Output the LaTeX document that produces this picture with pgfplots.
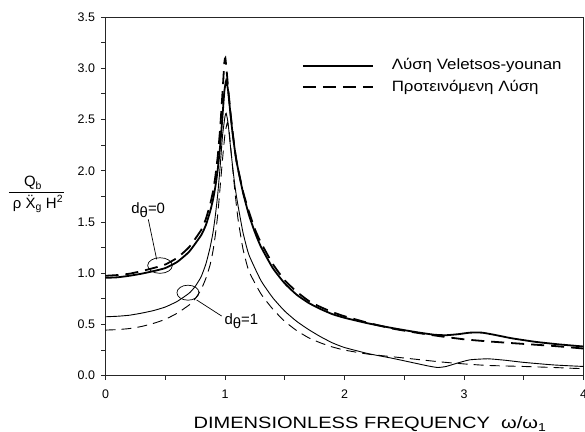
\documentclass[border=0pt]{standalone}
\usepackage{fontspec}
\setmainfont{Liberation Sans}
\usepackage{pgfplots}
\usepackage{pgfplotstable}
\usepackage{graphicx}
\pgfplotsset{compat=1.18}

\pgfplotstableread{
x y
0.00 0.955
0.10 0.960
0.20 0.975
0.30 0.995
0.40 1.020
0.50 1.050
0.60 1.110
0.70 1.210
0.80 1.370
0.84 1.470
0.875 1.600
0.90 1.720
0.92 1.850
0.94 2.020
0.96 2.250
0.98 2.550
0.995 2.780
1.01 2.880
1.025 2.790
1.04 2.620
1.06 2.400
1.08 2.220
1.10 2.070
1.15 1.790
1.20 1.570
1.25 1.400
1.30 1.260
1.40 1.050
1.50 0.900
1.60 0.790
1.70 0.710
1.80 0.650
1.90 0.600
2.00 0.565
2.20 0.510
2.40 0.465
2.60 0.425
2.75 0.400
2.85 0.395
2.95 0.405
3.05 0.420
3.15 0.420
3.25 0.400
3.40 0.365
3.60 0.330
3.80 0.305
4.00 0.285
}\vsA

\pgfplotstableread{
x y
0.00 0.975
0.10 0.982
0.20 0.995
0.30 1.020
0.40 1.050
0.50 1.085
0.60 1.150
0.70 1.255
0.80 1.420
0.84 1.530
0.875 1.670
0.90 1.800
0.92 1.950
0.94 2.150
0.96 2.420
0.98 2.780
0.995 3.060
1.003 3.100
1.015 2.960
1.03 2.760
1.05 2.520
1.08 2.220
1.10 2.070
1.15 1.800
1.20 1.600
1.25 1.430
1.30 1.300
1.40 1.090
1.50 0.930
1.60 0.820
1.70 0.730
1.80 0.670
1.90 0.620
2.00 0.580
2.20 0.515
2.40 0.460
2.60 0.420
2.80 0.385
3.00 0.355
3.20 0.335
3.50 0.310
3.75 0.290
4.00 0.265
}\prA

\pgfplotstableread{
x y
0.00 0.575
0.10 0.580
0.20 0.590
0.30 0.610
0.40 0.635
0.50 0.670
0.60 0.725
0.70 0.805
0.75 0.870
0.80 0.965
0.84 1.090
0.875 1.250
0.90 1.400
0.92 1.570
0.94 1.780
0.96 2.050
0.98 2.350
1.00 2.530
1.01 2.560
1.025 2.470
1.04 2.300
1.06 2.080
1.08 1.880
1.10 1.720
1.15 1.400
1.20 1.180
1.30 0.930
1.40 0.760
1.50 0.630
1.60 0.530
1.70 0.450
1.80 0.380
1.90 0.320
2.00 0.275
2.20 0.215
2.40 0.170
2.60 0.120
2.70 0.095
2.78 0.080
2.85 0.090
2.95 0.125
3.05 0.155
3.20 0.165
3.35 0.150
3.50 0.130
3.75 0.105
4.00 0.090
}\vsB

\pgfplotstableread{
x y
0.00 0.445
0.10 0.450
0.20 0.460
0.30 0.480
0.40 0.510
0.50 0.550
0.60 0.610
0.70 0.690
0.75 0.750
0.80 0.840
0.84 0.950
0.875 1.080
0.90 1.220
0.92 1.380
0.94 1.580
0.96 1.850
0.98 2.120
1.00 2.360
1.02 2.470
1.035 2.380
1.05 2.200
1.07 1.950
1.09 1.720
1.11 1.520
1.15 1.240
1.20 1.020
1.30 0.800
1.40 0.650
1.50 0.530
1.60 0.440
1.70 0.370
1.80 0.320
1.90 0.280
2.00 0.250
2.20 0.210
2.40 0.185
2.60 0.160
2.80 0.135
3.00 0.115
3.20 0.100
3.50 0.090
3.75 0.080
4.00 0.068
}\prB

\begin{document}
\begin{tikzpicture}
\begin{axis}[
  at={(0,0)}, anchor=south west,
  scale only axis, width=478bp, height=358.7bp,
  xmin=0, xmax=4, ymin=0, ymax=3.5,
  xtick={0,1,2,3,4},
  ytick={0,0.5,1,1.5,2,2.5,3,3.5},
  minor x tick num=1, minor y tick num=1,
  tick align=outside, xtick pos=bottom, ytick pos=left,
  major tick length=4.5bp, minor tick length=4bp,
  axis line style={line width=0.9bp, black!85},
  every tick/.style={black!85, line width=0.8bp},
  /pgf/number format/assume math mode=true,
  ticklabel style={font=\fontsize{12.5}{14}\selectfont},
  y tick label style={xshift=-2.5bp, /pgf/number format/fixed, /pgf/number format/fixed zerofill, /pgf/number format/precision=1},
  x tick label style={yshift=-6bp},
  legend style={at={(axis cs:1.644,2.918)}, anchor=west, draw=none, fill=none,
    inner sep=0pt, outer sep=0pt, row sep=8bp,
    font=\fontsize{15}{17}\selectfont,
    nodes={inner sep=0pt, text height=10.5bp, text depth=3bp},
    /tikz/every odd column/.append style={column sep=18bp}},
  legend cell align=left,
  legend image code/.code={\draw[#1] (0bp,0bp) -- (70bp,0bp);},
  clip=true,
]
\addplot[black, line width=1.8bp, smooth, tension=0.3] table {\vsA};
\addlegendentry{\scalebox{1.13}[1]{Λύση Veletsos-younan}}
\addplot[black, line width=1.8bp, dash pattern=on 13bp off 7bp, smooth, tension=0.3] table {\prA};
\addlegendentry{\scalebox{1.13}[1]{Προτεινόμενη Λύση}}
\addplot[black, line width=0.9bp, smooth, tension=0.3, forget plot] table {\vsB};
\addplot[black, line width=0.9bp, dash pattern=on 10bp off 6bp, smooth, tension=0.3, forget plot] table {\prB};

% annotations
\draw[line width=0.7bp] (axis cs:0.456,1.075) ellipse [x radius=12.3bp, y radius=7.8bp];
\draw[line width=0.7bp] (axis cs:0.358,1.526) -- (axis cs:0.428,1.136);
\node[anchor=base west, inner sep=0pt, font=\fontsize{15}{17}\selectfont] at (axis cs:0.215,1.58) {d\raisebox{-0.45ex}{θ}=0};
\draw[line width=0.7bp] (axis cs:0.69,0.81) ellipse [x radius=11bp, y radius=7.5bp];
\draw[line width=0.7bp] (axis cs:0.972,0.582) -- (axis cs:0.763,0.739);
\node[anchor=base west, inner sep=0pt, font=\fontsize{15}{17}\selectfont] at (axis cs:0.995,0.495) {d\raisebox{-0.45ex}{θ}=1};
\end{axis}
% axis labels
\node[anchor=center, inner sep=0pt, font=\fontsize{16.5}{18}\selectfont] at (264.5bp,-48.5bp) {\scalebox{1.22}[1]{DIMENSIONLESS FREQUENCY~~ω/ω\textsubscript{1}}};
\node[anchor=base, inner sep=0pt, font=\fontsize{15}{17}\selectfont] at (-72.5bp,189bp) {Q\textsubscript{b}};
\draw[line width=1.2bp] (-96.5bp,183bp) -- (-41.5bp,183bp);
\node[anchor=base, inner sep=0pt, font=\fontsize{15}{17}\selectfont] at (-67.5bp,167.5bp) {ρ {\accent"00A8 X}\textsubscript{g} H\textsuperscript{2}};
\pgfresetboundingbox
\path (-105.5bp,-56.3bp) rectangle (479.5bp,375.7bp);
\end{tikzpicture}
\end{document}
